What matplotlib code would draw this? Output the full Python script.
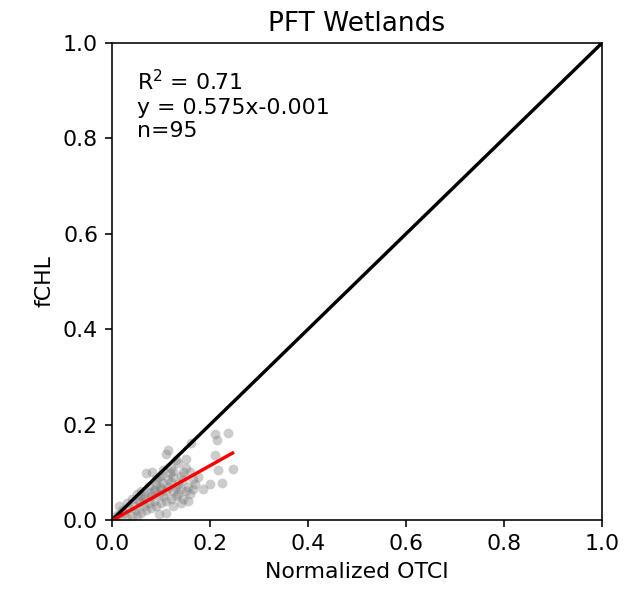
import numpy as np
import matplotlib
matplotlib.use("Agg")
import matplotlib.pyplot as plt

# normalized OTCI vs fCHL, wetlands PFT
otci = [0.236, 0.210, 0.214, 0.161, 0.114, 0.110, 0.210, 0.152, 0.130, 0.217,
        0.246, 0.200, 0.224, 0.081, 0.125, 0.160, 0.095, 0.070, 0.140, 0.175,
        0.185, 0.165, 0.145, 0.120, 0.105, 0.090, 0.075, 0.060, 0.050, 0.040,
        0.030, 0.020, 0.010, 0.015, 0.025, 0.035, 0.045, 0.055, 0.065, 0.080,
        0.085, 0.095, 0.100, 0.110, 0.115, 0.125, 0.130, 0.135, 0.140, 0.150,
        0.155, 0.130, 0.120, 0.110, 0.100, 0.090, 0.080, 0.070, 0.060, 0.050,
        0.040, 0.030, 0.105, 0.115, 0.125, 0.135, 0.145, 0.155, 0.140, 0.125,
        0.110, 0.095, 0.085, 0.075, 0.065, 0.060, 0.100, 0.090, 0.120, 0.105,
        0.150, 0.165, 0.170, 0.160, 0.145, 0.135, 0.118, 0.098, 0.088, 0.078,
        0.068, 0.058, 0.048, 0.005, 0.012]
fchl = [0.182, 0.180, 0.168, 0.161, 0.147, 0.138, 0.136, 0.127, 0.125, 0.105,
        0.108, 0.075, 0.077, 0.101, 0.103, 0.100, 0.090, 0.098, 0.092, 0.090,
        0.066, 0.065, 0.083, 0.080, 0.078, 0.075, 0.072, 0.060, 0.055, 0.045,
        0.035, 0.020, 0.010, 0.030, 0.015, 0.025, 0.030, 0.040, 0.045, 0.050,
        0.060, 0.055, 0.065, 0.060, 0.070, 0.060, 0.070, 0.055, 0.065, 0.060,
        0.070, 0.050, 0.045, 0.040, 0.035, 0.030, 0.025, 0.020, 0.015, 0.010,
        0.008, 0.005, 0.050, 0.085, 0.090, 0.075, 0.045, 0.040, 0.035, 0.030,
        0.015, 0.012, 0.040, 0.035, 0.030, 0.050, 0.095, 0.085, 0.110, 0.105,
        0.110, 0.085, 0.075, 0.055, 0.100, 0.120, 0.098, 0.070, 0.065, 0.058,
        0.052, 0.038, 0.022, 0.003, 0.008]
slope = 0.575
intercept = -0.001
r2 = 0.71

plt.rcParams["font.size"] = 11

fig = plt.figure(figsize=(639 / 144, 591 / 144), dpi=144)
ax = fig.add_axes([0.1753, 0.1201, 0.7668, 0.8071])

ax.scatter(otci, fchl, s=24, color="gray", alpha=0.4, linewidths=0)
ax.plot([0, 1], [0, 1], color="black", lw=1.7)
xfit = np.array([0, max(otci)])
ax.plot(xfit, slope * xfit + intercept, color="red", lw=1.7)

ax.text(0.05, 0.795, "R$^2$ = %.2f\ny = %.3fx%.3f\nn=%d" % (r2, slope, intercept, len(otci)),
        va="bottom")

ax.set_xlim(0, 1)
ax.set_ylim(0, 1)
ax.set_xlabel("Normalized OTCI")
ax.set_ylabel("fCHL")
ax.set_title("PFT Wetlands")

plt.savefig("out.png", dpi=144)
